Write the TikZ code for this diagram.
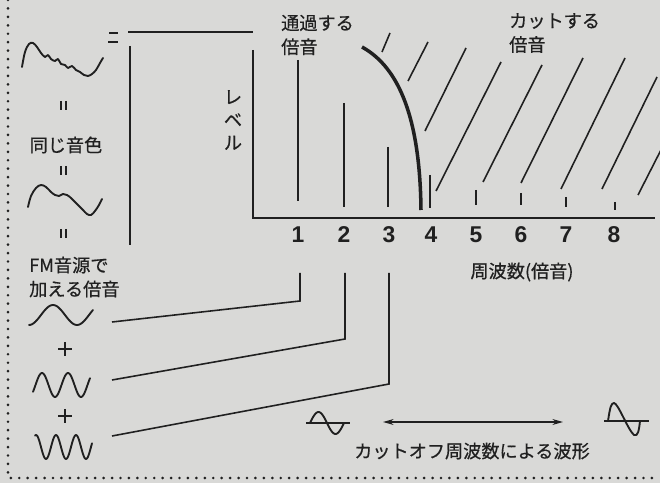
\documentclass[tikz,border=0pt]{standalone}
\usepackage{fontspec}
\newfontfamily\jp[FakeBold=0.6]{Noto Sans CJK JP}
\newfontfamily\numf{Liberation Sans}
\usetikzlibrary{arrows.meta}
\definecolor{bg}{RGB}{217,217,215}
\definecolor{ink}{RGB}{32,32,32}
\begin{document}
\begin{tikzpicture}[x=0.03cm,y=-0.03cm,
  ln/.style={draw=ink,line width=1.35pt},
  pen/.style={draw=ink,line width=1.6pt,line cap=round,line join=round},
  bold/.style={draw=ink,line width=3pt},
  dots/.style={draw=ink,line width=2.5pt,line cap=round,dash pattern=on 0pt off 7.2pt},
  txt/.style={font=\jp\fontsize{15.5}{20.4}\selectfont,inner sep=0pt,text=ink},
  num/.style={font=\numf\bfseries\fontsize{19.5}{22}\selectfont,inner sep=0pt,text=ink}]
\fill[bg] (0,0) rectangle (660,483);
\useasboundingbox (0,0) rectangle (660,483);
\begin{scope}
\clip (0,0) rectangle (660,483);
% dotted frame
\coordinate (dtop) at (8,0);
\coordinate (dcorner) at (8,478);
\coordinate (dright) at (660,478);
\draw[dots] (dtop) -- (dcorner) -- (dright);

% top-left equals and bracket
\draw[ln] (109,33) -- (118,33);
\draw[ln] (108,42) -- (118,42);
\coordinate (bl) at (128,32);
\coordinate (br) at (253,32);
\draw[ln] (bl) -- (br);
\coordinate (lvt) at (130,46);
\coordinate (lvb) at (130,245);
\draw[ln] (lvt) -- (lvb);

% axes
\coordinate (ytop) at (253,50);
\coordinate (orig) at (253,218);
\coordinate (xend) at (655,218);
\draw[ln] (ytop) -- (orig) -- (xend);

% harmonic bars and numbers
\foreach \n/\x/\t/\b/\lx in {1/298/60/201/298, 2/344/103/207/344, 3/388/147/207/389, 4/430/175/208/431,
                           5/476/190/205/476, 6/521/193/205/521, 7/566/197/207/566, 8/615/202/210/614}{
  \coordinate (h\n t) at (\x,\t);
  \coordinate (h\n b) at (\x,\b);
  \draw[ln] (h\n t) -- (h\n b);
  \node[num] (n\n) at (\lx,235) {\n};
}

% cutoff curve
\coordinate (c0) at (362,47);
\coordinate (c1) at (421,210);
\draw[bold] (c0) .. controls (400,68) and (420,120) .. (c1);

% hatching
\foreach \i/\a/\b/\c/\d in {1/382/52/390/33, 2/408/81/428/42, 3/425/131/466/48, 4/436/191/501/62,
                          5/483/182/542/65, 6/521/183/583/58, 7/561/189/625/58, 8/602/189/657/77,
                          9/638/195/664/144}{
  \coordinate (ha\i) at (\a,\b);
  \coordinate (hb\i) at (\c,\d);
  \draw[ln] (ha\i) -- (hb\i);
}

% labels
\node[txt,anchor=west,align=left] (pass) at (281,35) {通過する\\倍音};
\node[txt,anchor=west,align=left] (cut) at (509,33) {カットする\\倍音};
\node[txt,align=center,font=\jp\fontsize{15.5}{19.5}\selectfont] (lev) at (233,120) {レ\\ベ\\ル};
\node[txt] (same) at (66,145) {同じ音色};
\node[txt,anchor=west,align=left] (fm) at (29,277) {FM音源で\\加える倍音};
\node[txt] (freq) at (522,272) {周波数(倍音)};
\node[txt] (wave) at (472,451) {カットオフ周波数による波形};

% complex waveforms
\draw[pen] plot[smooth,tension=0.6] coordinates {(22,67) (25,52) (29,44) (33,43) (37,47) (41,53) (45,57) (48,55) (51,59) (55,61) (58,59) (61,64) (65,65) (68,68) (72,66) (76,70) (80,72) (84,75) (88,76) (92,74) (96,70) (100,63) (103,58)};
\draw[pen] plot[smooth,tension=0.6] coordinates {(28,207) (31,196) (36,188) (41,185) (46,187) (51,192) (55,195) (59,196) (63,194) (67,195) (71,198) (75,202) (79,206) (83,210) (87,214) (91,215) (95,211) (99,205) (102,199)};

% vertical equals marks
\foreach \y in {101,166,229}{
  \draw[ln] (61,\y) -- (61,\y+9);
  \draw[ln] (66,\y) -- (66,\y+9);
}

% sine components
\draw[pen] plot[domain=29:93,samples=50,smooth] (\x,{315+10*cos(7.5*(\x-29))});
\draw[pen] plot[domain=33:90,samples=60,smooth] (\x,{385-12*sin(13.846*(\x-35.5))});
\draw[pen] plot[domain=35:92,samples=70,smooth] (\x,{447-12*cos(18*(\x-36))});
\draw[ln] (58,349) -- (72,349) (65,342) -- (65,356);
\draw[ln] (58,416) -- (72,416) (65,409) -- (65,423);

% connectors
\coordinate (s1) at (112,322);
\coordinate (k1) at (300,301);
\coordinate (e1) at (300,273);
\coordinate (s2) at (112,380);
\coordinate (k2) at (345,339);
\coordinate (e2) at (345,273);
\coordinate (s3) at (112,436);
\coordinate (k3) at (389,384);
\coordinate (e3) at (389,273);
\draw[ln] (s1) -- (k1) -- (e1);
\draw[ln] (s2) -- (k2) -- (e2);
\draw[ln] (s3) -- (k3) -- (e3);

% cutoff waveforms
\draw[ln] (306,423) -- (350,423);
\draw[pen] plot[domain=310:344,samples=40,smooth] (\x,{423-11*sin(10.588*(\x-310))});
\coordinate (arL) at (383,422);
\coordinate (arR) at (563,422);
\draw[ln,{Stealth[length=9pt,width=5pt]}-{Stealth[length=9pt,width=5pt]}] (arL) -- (arR);
\draw[ln] (604,421) -- (649,421);
\draw[pen] (608,421) .. controls (610,408) and (611,403) .. (614,403)
  .. controls (618,403) and (628,430) .. (634,435)
  .. controls (638,437) and (639,430) .. (640,421);
\end{scope}
\end{tikzpicture}
\end{document}
